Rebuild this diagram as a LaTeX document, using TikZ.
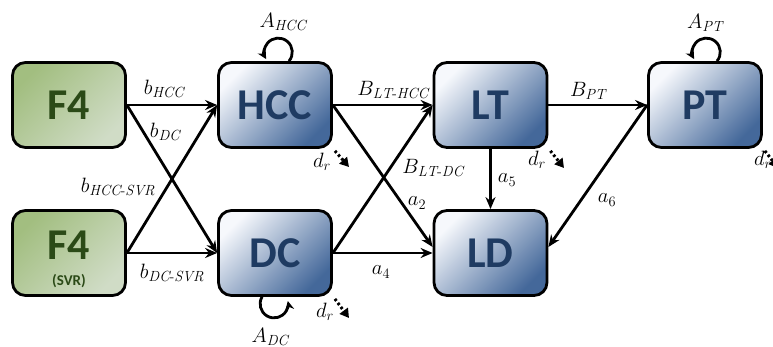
\documentclass[tikz,border=0pt]{standalone}
\usepackage{fontspec}
\usepackage{amsmath}
\newfontfamily\boxfont{Carlito}
\usetikzlibrary{arrows.meta}
\definecolor{gtext}{HTML}{2B4A17}
\definecolor{btext}{HTML}{1F3B62}
\definecolor{gdark}{HTML}{A2BE80}
\definecolor{glight}{HTML}{D0DCC6}
\definecolor{bdark}{HTML}{44689A}
\definecolor{bmid}{HTML}{B4C6DE}
\definecolor{blight}{HTML}{F6F8FC}
\tikzset{
  basebox/.style={rectangle, rounded corners=13pt, minimum width=113pt, minimum height=85pt,
    line width=2.8pt, draw=black, inner sep=0pt},
  greenbox/.style={basebox, top color=gdark, bottom color=glight, shading angle=45},
  bluebox/.style={basebox, top color=blight, middle color=bmid, bottom color=bdark, shading angle=45,
    text=btext, font=\boxfont\bfseries\fontsize{44}{44}\selectfont},
  gtxt/.style={text=gtext, font=\boxfont\bfseries\fontsize{44}{44}\selectfont, inner sep=0pt},
  svrtxt/.style={text=gtext, font=\boxfont\bfseries\fontsize{15}{15}\selectfont, inner sep=0pt},
  flow/.style={line width=2.8pt, -{Stealth[length=12pt,width=10pt]}},
  loopar/.style={line width=2.8pt, -{Stealth[length=9pt,width=9pt]}},
  lbl/.style={font=\fontsize{21}{24}\selectfont, inner sep=0pt},
  drarrow/.style={line width=3pt, dash pattern=on 2.5pt off 2.5pt, -{Triangle[length=9pt,width=10pt]}}
}
\begin{document}
\begin{tikzpicture}[x=1pt,y=1pt]
\useasboundingbox (0,0) rectangle (773,-347);
% boxes
\node[greenbox] (F4) at (69,-105) {};
\node[gtxt] (f4t) at (69,-105) {F4};
\node[greenbox] (F4b) at (69,-253) {};
\node[gtxt] (f4bt) at (69,-245) {F4};
\node[svrtxt] (svr) at (69,-281) {(SVR)};
\node[bluebox] (HCC) at (275,-105) {HCC};
\node[bluebox] (DC) at (275,-253) {DC};
\node[bluebox] (LT) at (490.5,-105) {LT};
\node[bluebox] (LD) at (490.5,-253) {LD};
\node[bluebox] (PT) at (705,-105) {PT};
% connectors
\draw[flow] (F4.east) -- (HCC.west);
\draw[flow] (F4.east) -- (DC.west);
\draw[flow] (F4b.east) -- (HCC.west);
\draw[flow] (F4b.east) -- (DC.west);
\draw[flow] (HCC.east) -- (LT.west);
\draw[flow] (HCC.east) -- ([yshift=6pt]LD.west);
\draw[flow] (DC.east) -- (LT.west);
\draw[flow] (DC.east) -- (LD.west);
\draw[flow] (LT.south) -- (LD.north);
\draw[flow] (LT.east) -- (PT.west);
\draw[flow] (PT.west) -- ([yshift=6pt]LD.east);
% self loops
\draw[loopar] ([xshift=14pt]HCC.north) arc[start angle=-40, end angle=210, radius=14pt];
\draw[loopar] ([xshift=12pt]PT.north) arc[start angle=-40, end angle=210, radius=14pt];
\draw[loopar] ([xshift=-13pt]DC.south) arc[start angle=150, end angle=372, radius=14pt];
% d_r arrows
\coordinate (hd) at (349,-167);
\coordinate (ld) at (564,-168);
\coordinate (pd) at (778,-168);
\coordinate (dd) at (349,-318);
\draw[drarrow] ([shift={(2pt,-2pt)}]HCC.south east) -- (hd);
\draw[drarrow] ([shift={(2pt,-2pt)}]LT.south east) -- (ld);
\draw[drarrow] ([shift={(2pt,-2pt)}]PT.south east) -- (pd);
\draw[drarrow] ([shift={(2pt,-2pt)}]DC.south east) -- (dd);
% labels
\node[lbl] (lAHCC) at (283,-22) {$A_{\mathit{HCC}}$};
\node[lbl] (lbHCC) at (164,-89) {$b_{\mathit{HCC}}$};
\node[lbl] (lbDC) at (165,-132) {$b_{\mathit{DC}}$};
\node[lbl] (lBLTHCC) at (393,-90) {$B_{\mathit{LT}\text{-}\mathit{HCC}}$};
\node[lbl] (ldr1) at (322,-162) {$d_r$};
\node[lbl] (lBLTDC) at (433,-168) {$B_{\mathit{LT}\text{-}\mathit{DC}}$};
\node[lbl] (la5) at (507,-180) {$a_5$};
\node[lbl] (ldr2) at (537,-160) {$d_r$};
\node[lbl] (lBPT) at (588,-91) {$B_{\mathit{PT}}$};
\node[lbl] (lAPT) at (705,-23) {$A_{\mathit{PT}}$};
\node[lbl] (ldr3) at (763,-160) {$d_r$};
\node[lbl] (lbHCCSVR) at (118,-187) {$b_{\mathit{HCC}\text{-}\mathit{SVR}}$};
\node[lbl] (lbDCSVR) at (172,-273) {$b_{\mathit{DC}\text{-}\mathit{SVR}}$};
\node[lbl] (la2) at (417,-203) {$a_2$};
\node[lbl] (la4) at (381,-272) {$a_4$};
\node[lbl] (la6) at (607,-200) {$a_6$};
\node[lbl] (ldr4) at (325,-312) {$d_r$};
\node[lbl] (lADC) at (270,-337) {$A_{\mathit{DC}}$};
\end{tikzpicture}
\end{document}
